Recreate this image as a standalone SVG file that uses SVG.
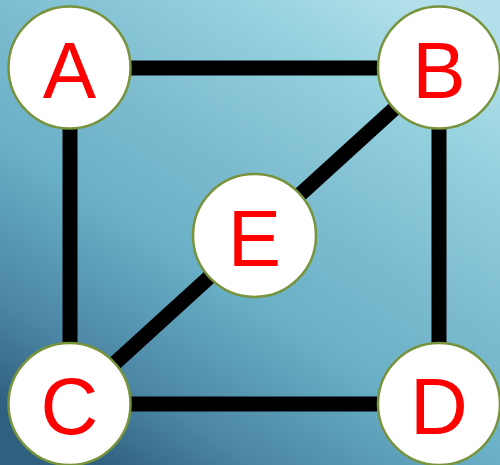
<svg xmlns="http://www.w3.org/2000/svg" width="500" height="465" viewBox="0 0 500 465">
<defs>
<linearGradient id="bg" gradientUnits="userSpaceOnUse" x1="400" y1="0" x2="100" y2="465">
<stop offset="0" stop-color="#b2dfe9"/>
<stop offset="0.18" stop-color="#92d0de"/>
<stop offset="0.43" stop-color="#7bbace"/>
<stop offset="0.6" stop-color="#69b0c6"/>
<stop offset="0.85" stop-color="#4b85a4"/>
<stop offset="1" stop-color="#30607f"/>
</linearGradient>
<style>
.node circle{fill:#fff;stroke:#77933c;stroke-width:2.5}
.node text{fill:#ff0000;font-family:"Liberation Sans",Arial,sans-serif;font-size:80px;text-anchor:middle;dominant-baseline:central}
.edge{stroke:#000;stroke-width:15;fill:none}
</style>
</defs>
<rect width="500" height="465" fill="url(#bg)"/>
<g id="connectors">
<line class="edge" x1="70" y1="68" x2="439" y2="68"/>
<line class="edge" x1="70" y1="68" x2="70" y2="404"/>
<line class="edge" x1="439" y1="68" x2="439" y2="404"/>
<line class="edge" x1="70" y1="404" x2="439" y2="404"/>
<line class="edge" x1="439" y1="68" x2="70" y2="404"/>
</g>
<g id="A" class="node"><circle cx="69.5" cy="67.5" r="61"/><text x="69.5" y="70">A</text></g>
<g id="B" class="node"><circle cx="439" cy="67.5" r="61"/><text x="439" y="70">B</text></g>
<g id="C" class="node"><circle cx="69.5" cy="404" r="61"/><text x="69.5" y="406">C</text></g>
<g id="D" class="node"><circle cx="439" cy="404" r="61"/><text x="439" y="406">D</text></g>
<g id="E" class="node"><circle cx="254.5" cy="235.5" r="61.5"/><text x="254.5" y="238">E</text></g>
</svg>
